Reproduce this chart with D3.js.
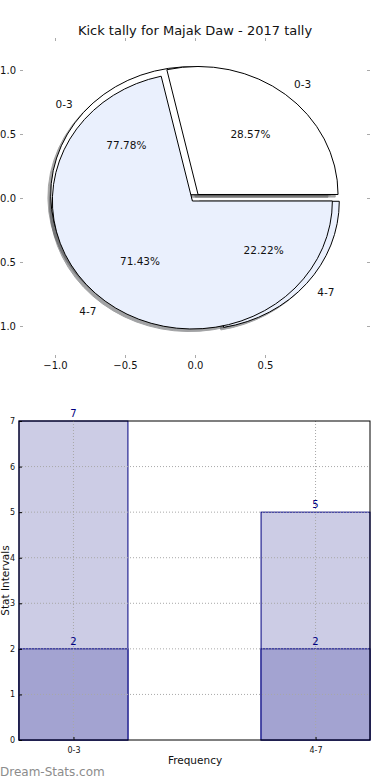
<!DOCTYPE html>
<html><head><meta charset="utf-8">
<script src="https://cdn.jsdelivr.net/npm/d3@7"></script>
<style>html,body{margin:0;padding:0;background:#fff;} svg{display:block;font-family:"DejaVu Sans",sans-serif;}</style>
</head><body><svg id="c" width="390" height="780"></svg>
<script>
const title = "Kick tally for Majak Daw - 2017 tally";
const pieLabels = ["0-3", "4-7"];
const pieValuesA = [7, 2];
const pieValuesB = [2, 5];
const pieTicks = [-1.0, -0.5, 0.0, 0.5, 1.0];
const barCategories = ["0-3", "4-7"];
const barTotals = [7, 5];
const barBase = [2, 2];
const barYTicks = [0, 1, 2, 3, 4, 5, 6, 7];
const xLabel = "Frequency";
const yLabel = "Stat Intervals";
const watermark = "Dream-Stats.com";

const svg = d3.select("#c");
svg.append("rect").attr("width", 390).attr("height", 780).attr("fill", "#fff");

svg.append("text").attr("x", 195).attr("y", 35).attr("text-anchor", "middle")
  .attr("font-size", 13).attr("fill", "#111").text(title);

// ---------- Pie panel ----------
const px = d3.scaleLinear().domain([-1.25, 1.25]).range([20, 370]);
const py = d3.scaleLinear().domain([-1.25, 1.25]).range([358, 38]);
const tickCol = "#aaa";

function styleAxis(g, fs) {
  g.select(".domain").remove();
  g.selectAll(".tick line").attr("stroke", tickCol);
  g.selectAll(".tick text").attr("font-size", fs).attr("fill", "#111").attr("font-family", "DejaVu Sans");
}
const fmt1 = d3.format(".1f");
svg.append("g").attr("transform", `translate(0,${py(-1.25)})`)
  .call(d3.axisBottom(px).tickValues(pieTicks.slice(0, 4)).tickSize(-3).tickPadding(4).tickFormat(fmt1))
  .call(g => styleAxis(g, 10));
svg.append("g").attr("transform", `translate(0,${py(1.25)})`)
  .call(d3.axisTop(px).tickValues(pieTicks.slice(0, 4)).tickSize(-3).tickFormat(""))
  .call(g => styleAxis(g, 10));
svg.append("g").attr("transform", `translate(${px(-1.25)},0)`)
  .call(d3.axisLeft(py).tickValues(pieTicks).tickSize(-3).tickPadding(4).tickFormat(fmt1))
  .call(g => styleAxis(g, 10));
svg.append("g").attr("transform", `translate(${px(1.25)},0)`)
  .call(d3.axisRight(py).tickValues(pieTicks).tickSize(-3).tickFormat(""))
  .call(g => styleAxis(g, 10));

const pieGen = d3.pie().sort(null).startAngle(Math.PI / 2).endAngle(Math.PI / 2 - 2 * Math.PI);
const arcGen = d3.arc().innerRadius(0).outerRadius(1);
const pieColors = ["#ffffff", "#eaf0fd"];
const explodeA = [0.04, 0.04];
const explodeB = [0.035, 0.03];

function wedges(values, explode) {
  const tot = d3.sum(values);
  return pieGen(values).map((d, i) => {
    const th = Math.PI / 2 - (d.startAngle + d.endAngle) / 2;
    return Object.assign({}, d, {
      i, th,
      ox: explode[i] * Math.cos(th), oy: explode[i] * Math.sin(th),
      pct: d.value / tot * 100
    });
  });
}
const wA = wedges(pieValuesA, explodeA);
const wB = wedges(pieValuesB, explodeB);
const sxU = px(1) - px(0), syU = py(0) - py(1);

const pieG = svg.append("g");
// shadows
[...wA, ...wB].forEach(d => {
  const c = d3.rgb(pieColors[d.i]);
  const sc = d3.rgb(c.r * 0.3, c.g * 0.3, c.b * 0.3).toString();
  pieG.append("path").attr("d", arcGen(d))
    .attr("transform", `translate(${px(d.ox - 0.02)},${py(d.oy - 0.02)}) scale(${sxU},${syU})`)
    .attr("fill", sc).attr("stroke", sc).attr("stroke-width", 1)
    .attr("vector-effect", "non-scaling-stroke").attr("opacity", 0.5);
});
[wA, wB].forEach(ws => ws.forEach(d => {
  pieG.append("path").attr("d", arcGen(d))
    .attr("transform", `translate(${px(d.ox)},${py(d.oy)}) scale(${sxU},${syU})`)
    .attr("fill", pieColors[d.i]).attr("stroke", "#000").attr("stroke-width", 1)
    .attr("vector-effect", "non-scaling-stroke");
}));
[wA, wB].forEach(ws => ws.forEach(d => {
  const lx = d.ox + 1.1 * Math.cos(d.th), ly = d.oy + 1.1 * Math.sin(d.th);
  svg.append("text").attr("x", px(lx)).attr("y", py(ly)).attr("dy", "0.36em")
    .attr("text-anchor", lx > 0 ? "start" : "end").attr("font-size", 10.5).attr("fill", "#111")
    .text(pieLabels[d.i]);
  const tx = d.ox + 0.6 * Math.cos(d.th), ty = d.oy + 0.6 * Math.sin(d.th);
  svg.append("text").attr("x", px(tx)).attr("y", py(ty)).attr("dy", "0.36em")
    .attr("text-anchor", "middle").attr("font-size", 10.5).attr("fill", "#111")
    .text(d3.format(".2f")(d.pct) + "%");
}));

// ---------- Bar panel ----------
const bw = 0.45;
const bx = d3.scaleLinear().domain([-bw / 2, barCategories.length - 1 + bw / 2]).range([19, 370]);
const by = d3.scaleLinear().domain([0, 7]).range([740, 421]);
const barG = svg.append("g");
const navy = "#000080";
function drawBars(vals, fill) {
  barG.selectAll(null).data(vals).enter().append("rect")
    .attr("x", (v, i) => bx(i - bw / 2)).attr("width", bx(bw) - bx(0))
    .attr("y", v => by(v)).attr("height", v => by(0) - by(v))
    .attr("fill", fill).attr("stroke", navy).attr("stroke-width", 1);
}
drawBars(barTotals, "#ccccE5");
drawBars(barBase, "#a3a3d1");

// grid
const gridG = svg.append("g").attr("stroke", "#a8a8a8").attr("stroke-dasharray", "1,2").attr("stroke-width", 1);
barYTicks.slice(1, -1).forEach(t => gridG.append("line")
  .attr("x1", 19).attr("x2", 370).attr("y1", by(t)).attr("y2", by(t)));
barCategories.forEach((c, i) => gridG.append("line")
  .attr("x1", bx(i)).attr("x2", bx(i)).attr("y1", 421).attr("y2", 740));

// frame
svg.append("rect").attr("x", 19).attr("y", 421).attr("width", 351).attr("height", 319)
  .attr("fill", "none").attr("stroke", "#000").attr("stroke-width", 1);

svg.append("g").attr("transform", "translate(19,0)")
  .call(d3.axisLeft(by).tickValues(barYTicks).tickSize(-3).tickPadding(4).tickFormat(d3.format("d")))
  .call(g => { g.select(".domain").remove(); g.selectAll(".tick line").attr("stroke", "#000");
    g.selectAll(".tick text").attr("font-size", 8).attr("fill", "#111").attr("font-family", "DejaVu Sans"); });
svg.append("g").attr("transform", "translate(0,740)")
  .call(d3.axisBottom(bx).tickValues(barCategories.map((c, i) => i)).tickSize(-3).tickPadding(7).tickFormat(i => barCategories[i]))
  .call(g => { g.select(".domain").remove(); g.selectAll(".tick line").attr("stroke", "#000");
    g.selectAll(".tick text").attr("font-size", 8).attr("fill", "#111").attr("font-family", "DejaVu Sans"); });

// value labels
[barTotals, barBase].forEach(vals => vals.forEach((v, i) => {
  svg.append("text").attr("x", bx(i)).attr("y", by(v) - 4).attr("text-anchor", "middle")
    .attr("font-size", 10).attr("fill", navy).text(v);
}));

svg.append("text").attr("x", 195).attr("y", 764).attr("text-anchor", "middle")
  .attr("font-size", 10.5).attr("fill", "#111").text(xLabel);
svg.append("text").attr("transform", `translate(8.5,${by(3.5)}) rotate(-90)`).attr("text-anchor", "middle")
  .attr("font-size", 10.5).attr("fill", "#111").text(yLabel);

svg.append("text").attr("x", 0).attr("y", 776).attr("font-size", 12)
  .attr("fill", "#8c8c8c").text(watermark);
</script></body></html>
